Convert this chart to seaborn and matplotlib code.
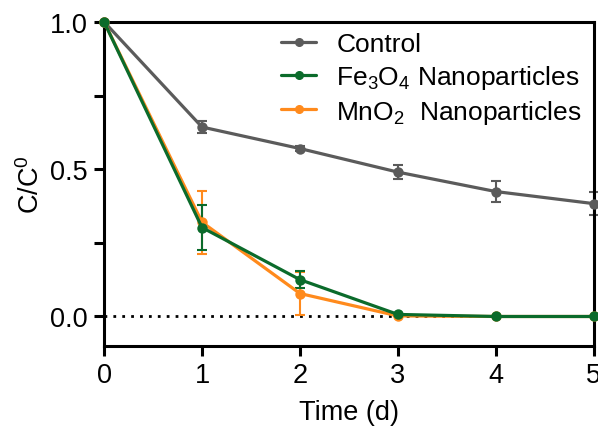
import numpy as np
import pandas as pd
import matplotlib.pyplot as plt
import seaborn as sns

days = [0, 1, 2, 3, 4, 5]
control = [1.0, 0.643, 0.570, 0.490, 0.424, 0.383]
control_err = [0.0, 0.02, 0.01, 0.025, 0.035, 0.04]
fe3o4 = [1.0, 0.302, 0.125, 0.007, 0.0, 0.0]
fe3o4_err = [0.0, 0.075, 0.03, 0.005, 0.0, 0.0]
mno2 = [1.0, 0.320, 0.078, 0.002, 0.0, 0.0]
mno2_err = [0.0, 0.107, 0.072, 0.0, 0.0, 0.0]

labels = ["Control", "Fe$_3$O$_4$ Nanoparticles", "MnO$_2$  Nanoparticles"]
colors = ["#5b5b5b", "#0b6b2b", "#ff8a1c"]

sns.set_style("ticks")
plt.rcParams["font.family"] = ["Liberation Sans", "DejaVu Sans"]
plt.rcParams["mathtext.fontset"] = "custom"
plt.rcParams["mathtext.rm"] = "Liberation Sans"
plt.rcParams["mathtext.it"] = "Liberation Sans"
plt.rcParams["text.color"] = "black"
plt.rcParams["axes.labelcolor"] = "black"
plt.rcParams["xtick.color"] = "black"
plt.rcParams["ytick.color"] = "black"

df = pd.DataFrame({
    "day": days * 3,
    "value": control + fe3o4 + mno2,
    "err": control_err + fe3o4_err + mno2_err,
    "group": [labels[0]] * 6 + [labels[1]] * 6 + [labels[2]] * 6,
})

fig = plt.figure(figsize=(5.98, 4.31), dpi=100)
ax = fig.add_axes([0.174, 0.195, 0.819, 0.752])

ax.plot([0, 5], [0, 0], color="black", linestyle=(0, (1, 2.2)), linewidth=2, zorder=1)

order = [labels[0], labels[2], labels[1]]
for name in order:
    i = labels.index(name)
    sub = df[df["group"] == name]
    ax.errorbar(sub["day"], sub["value"], yerr=sub["err"], fmt="none",
                ecolor=colors[i], elinewidth=1.5, capsize=3.5, capthick=1.5,
                zorder=2, clip_on=False)

sns.lineplot(data=df, x="day", y="value", hue="group", hue_order=labels,
             palette=colors, marker="o", markersize=7.5, markeredgewidth=0,
             linewidth=2.3, ax=ax, legend=False, zorder=3, clip_on=False)

# draw Fe3O4 over MnO2 like the reference
for line in ax.lines:
    if line.get_color() == colors[1]:
        line.set_zorder(4)

handles = [plt.Line2D([], [], color=c, marker="o", markersize=5.5, linewidth=2.3)
           for c in colors]
ax.legend(handles, labels, loc="upper right", frameon=False, fontsize=19,
          handlelength=1.33, handletextpad=0.76, labelspacing=0.25,
          borderaxespad=0.0, bbox_to_anchor=(0.997, 1.0))

ax.set_xlim(0, 5)
ax.set_ylim(-0.1, 1.0)
ax.set_xticks(days)
ax.set_yticks([0.0, 0.5, 1.0])
ax.set_yticks([0.25, 0.75], minor=True)
ax.set_yticklabels(["0.0", "0.5", "1.0"])
ax.set_xlabel("Time (d)", fontsize=19.5, labelpad=8)
ax.set_ylabel("C/C$^0$", fontsize=19.5, labelpad=4)
ax.tick_params(axis="both", which="both", direction="out", width=2.2,
               length=7.5, labelsize=19.5, pad=4)
for s in ax.spines.values():
    s.set_linewidth(2.2)
    s.set_color("black")

fig.savefig("out.png", dpi=100)
